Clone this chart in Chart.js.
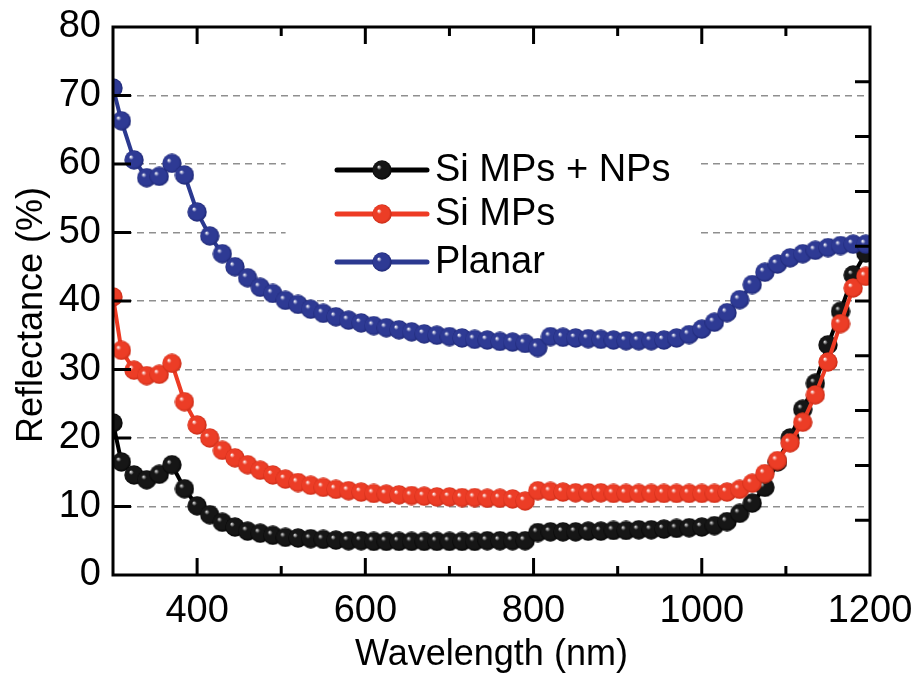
<!DOCTYPE html>
<html>
<head>
<meta charset="utf-8">
<script src="https://cdn.jsdelivr.net/npm/chart.js@4.4.0/dist/chart.umd.min.js"></script>
<style>
  html, body { margin: 0; padding: 0; background: #fff; }
  #wrap { width: 919px; height: 683px; }
</style>
</head>
<body>
<div id="wrap"><canvas id="reflChart" width="919" height="683"></canvas></div>
<script>
// wavelength (nm)
const wavelength = [300, 310, 325, 340, 355, 370, 385, 400, 415, 430, 445, 460, 475, 490, 505, 520,
  535, 550, 565, 580, 595, 610, 625, 640, 655, 670, 685, 700, 715, 730, 745, 760, 775, 790,
  805, 820, 835, 850, 865, 880, 895, 910, 925, 940, 955, 970, 985, 1000, 1015, 1030, 1045,
  1060, 1075, 1090, 1105, 1120, 1135, 1150, 1165, 1180, 1195];

// reflectance (%)
const siMpsNps = [22.2, 16.5, 14.6, 13.9, 14.7, 16.1, 12.6, 10.1, 8.8, 7.7, 7.0, 6.4, 6.1, 5.8, 5.5, 5.4,
  5.3, 5.2, 5.1, 5.0, 5.0, 4.9, 4.9, 4.9, 4.9, 4.9, 4.9, 4.9, 4.9, 4.9, 5.0, 5.0, 5.0, 5.0,
  6.2, 6.3, 6.3, 6.3, 6.4, 6.4, 6.5, 6.5, 6.6, 6.6, 6.7, 6.8, 6.9, 7.0, 7.2, 7.8, 9.0,
  10.5, 12.8, 16.5, 20.0, 24.2, 28.0, 33.6, 38.5, 43.8, 47.0];

const siMps = [40.6, 32.8, 29.9, 29.1, 29.3, 30.9, 25.3, 21.9, 20.0, 18.2, 17.1, 16.1, 15.3, 14.6, 14.0, 13.5,
  13.1, 12.8, 12.5, 12.3, 12.1, 11.9, 11.8, 11.7, 11.6, 11.5, 11.4, 11.4, 11.3, 11.3, 11.2, 11.2, 11.1, 10.8,
  12.3, 12.2, 12.1, 12.0, 12.0, 12.0, 11.9, 11.9, 11.9, 11.9, 11.9, 11.9, 11.9, 11.9, 11.9, 12.1, 12.5,
  13.4, 14.8, 16.7, 19.3, 22.3, 26.3, 31.1, 36.7, 41.9, 43.6];

const planar = [71.1, 66.3, 60.6, 58.0, 58.2, 60.1, 58.4, 53.0, 49.5, 46.9, 45.0, 43.4, 42.0, 41.1, 40.1, 39.5,
  38.8, 38.2, 37.7, 37.2, 36.8, 36.4, 36.1, 35.8, 35.5, 35.2, 35.0, 34.8, 34.6, 34.4, 34.3, 34.1, 34.0, 33.8,
  33.2, 34.8, 34.7, 34.6, 34.5, 34.4, 34.3, 34.2, 34.2, 34.2, 34.3, 34.6, 35.1, 35.9, 36.9, 38.3, 40.2,
  42.4, 44.2, 45.4, 46.3, 46.9, 47.4, 47.8, 48.1, 48.3, 48.3];

const seriesNames = ['Si MPs + NPs', 'Si MPs', 'Planar'];
const xTickLabels = [400, 600, 800, 1000, 1200];

const FONT = '"Liberation Sans", Arial, sans-serif';

// shaded ball used as point marker
function makeBall(base, edge, shine, size) {
  const c = document.createElement('canvas');
  c.width = c.height = size;
  const g = c.getContext('2d');
  const r = size / 2;
  const grad = g.createRadialGradient(r * 0.66, r * 0.68, r * 0.03, r, r, r);
  grad.addColorStop(0, shine);
  grad.addColorStop(0.22, base);
  grad.addColorStop(0.78, base);
  grad.addColorStop(1, edge);
  g.fillStyle = grad;
  g.beginPath();
  g.arc(r, r, r - 0.3, 0, Math.PI * 2);
  g.fill();
  return c;
}

const colors = [
  { line: '#000000', base: '#161616', edge: '#030303', shine: '#e0e0e0' },
  { line: '#ee3b24', base: '#ec3d26', edge: '#c42914', shine: '#ffffff' },
  { line: '#2b3990', base: '#2e3a94', edge: '#1b2470', shine: '#ffffff' }
];
const balls = colors.map(c => makeBall(c.base, c.edge, c.shine, 20));
const legendBalls = colors.map(c => makeBall(c.base, c.edge, c.shine, 20));

function toPoints(values) {
  return values.map((v, i) => ({ x: wavelength[i], y: v }));
}

// frame, inward ticks, legend, y title
const framePlugin = {
  id: 'frame',
  beforeDatasetsDraw(chart) {
    const ctx = chart.ctx;
    const a = chart.chartArea;
    // blank box behind the legend
    ctx.save();
    ctx.fillStyle = '#fff';
    ctx.fillRect(a.left + (a.right - a.left) * 0.228, a.top + 108, (a.right - a.left) * 0.548, 150);
    ctx.restore();
  },
  afterDatasetsDraw(chart) {
    const ctx = chart.ctx;
    const a = chart.chartArea;
    const xs = chart.scales.x;
    const ys = chart.scales.y;
    const y2 = chart.scales.y2;
    ctx.save();
    ctx.strokeStyle = '#000';
    ctx.lineWidth = 3;
    ctx.lineCap = 'butt';
    ctx.beginPath();
    for (let v = 400; v < 1200; v += 100) {
      const px = xs.getPixelForValue(v);
      const len = v % 200 === 0 ? 17 : 9;
      ctx.moveTo(px, a.bottom); ctx.lineTo(px, a.bottom - len);
      ctx.moveTo(px, a.top); ctx.lineTo(px, a.top + len);
    }
    ys.ticks.forEach(t => {
      if (t.value <= 0 || t.value >= 80) return;
      const py = ys.getPixelForValue(t.value);
      ctx.moveTo(a.left, py); ctx.lineTo(a.left + 18, py);
    });
    y2.ticks.forEach(t => {
      if (t.value <= 0 || t.value >= 80) return;
      const py = y2.getPixelForValue(t.value);
      ctx.moveTo(a.right, py); ctx.lineTo(a.right - 15, py);
    });
    ctx.stroke();
    ctx.strokeRect(a.left, a.top, a.right - a.left, a.bottom - a.top);

    // legend
    const lx0 = a.left + 224, lx1 = a.left + 314, bx = a.left + 269, tx = a.left + 322;
    const rows = [a.top + 143, a.top + 187, a.top + 235];
    ctx.font = '38px ' + FONT;
    ctx.textBaseline = 'middle';
    ctx.textAlign = 'left';
    chart.data.datasets.forEach((ds, i) => {
      const y = rows[i];
      ctx.strokeStyle = ds.borderColor;
      ctx.lineWidth = 5;
      ctx.lineCap = 'round';
      ctx.beginPath();
      ctx.moveTo(lx0, y); ctx.lineTo(lx1, y);
      ctx.stroke();
      const img = legendBalls[i];
      ctx.drawImage(img, bx - img.width / 2, y - img.height / 2);
      ctx.fillStyle = '#000';
      ctx.fillText(ds.label, tx, y + 1);
    });

    // y axis title, sitting a little below the axis centre as in the figure
    ctx.translate(32, (a.top + a.bottom) / 2 + 14);
    ctx.rotate(-Math.PI / 2);
    ctx.font = '36px ' + FONT;
    ctx.textAlign = 'center';
    ctx.fillText('Reflectance (%)', 0, 0);
    ctx.restore();
  }
};

const datasets = [siMpsNps, siMps, planar].map((vals, i) => ({
  label: seriesNames[i],
  data: toPoints(vals),
  borderColor: colors[i].line,
  backgroundColor: colors[i].line,
  borderWidth: 4,
  pointStyle: balls[i],
  pointRadius: 10,
  tension: 0,
  order: 3 - i
}));

function noPad(scale) {
  scale.paddingTop = 0;
  scale.paddingBottom = 0;
}

new Chart(document.getElementById('reflChart'), {
  type: 'line',
  data: { datasets },
  options: {
    responsive: false,
    animation: false,
    layout: { padding: { top: 27, left: 0, right: 0, bottom: 0 } },
    plugins: {
      legend: { display: false },
      tooltip: { enabled: false }
    },
    scales: {
      x: {
        type: 'linear',
        min: 300,
        max: 1200,
        afterFit(scale) { scale.height = 108; },
        afterBuildTicks(scale) {
          scale.ticks = xTickLabels.map(v => ({ value: v }));
        },
        grid: { display: false },
        border: { display: false },
        ticks: {
          color: '#000',
          font: { family: FONT, size: 38 },
          padding: 6,
          maxRotation: 0,
          autoSkip: false,
          callback: v => String(v)
        },
        title: {
          display: true,
          text: 'Wavelength (nm)',
          color: '#000',
          font: { family: FONT, size: 36 },
          padding: { top: 0, bottom: 6 }
        }
      },
      y: {
        position: 'left',
        min: 0,
        max: 80,
        afterFit(scale) { scale.width = 113; noPad(scale); },
        ticks: {
          stepSize: 10,
          color: '#000',
          font: { family: FONT, size: 38 },
          padding: 12
        },
        grid: {
          drawTicks: false,
          lineWidth: 1.5,
          color: ctx => (ctx.tick && (ctx.tick.value === 0 || ctx.tick.value === 80)) ? 'rgba(0,0,0,0)' : '#8f8f8f'
        },
        border: { display: false, dash: [7, 5] }
      },
      y2: {
        position: 'right',
        min: 0,
        max: 80,
        afterFit(scale) { scale.width = 49; noPad(scale); },
        ticks: { stepSize: 8, display: false },
        grid: { display: false },
        border: { display: false }
      }
    }
  },
  plugins: [framePlugin]
});
</script>
</body>
</html>
